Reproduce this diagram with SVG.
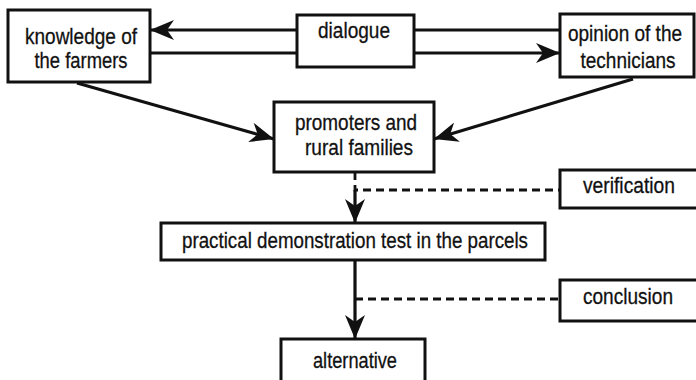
<svg xmlns="http://www.w3.org/2000/svg" width="696" height="380" viewBox="0 0 696 380">
<style>
.box{fill:#fff;stroke:#111;stroke-width:3}
.t{font-family:"Liberation Sans",Arial,sans-serif;font-size:22px;fill:#111;stroke:#111;stroke-width:0.3;text-anchor:middle}
.ln{fill:none;stroke:#111;stroke-width:3.2}
.dash{fill:none;stroke:#111;stroke-width:2.8;stroke-dasharray:8 5}
</style>
<defs>
<marker id="ah" viewBox="0 0 24 20" refX="24" refY="10" markerWidth="24" markerHeight="20" markerUnits="userSpaceOnUse" orient="auto">
<path d="M0,0 L24,10 L0,20 L7,10 Z" fill="#111"/>
</marker>
</defs>
<rect width="696" height="380" fill="#fff"/>
<g id="connectors">
<path class="ln" d="M297,30 L150,30" marker-end="url(#ah)"/>
<path class="ln" d="M150,53 L297,53"/>
<path class="ln" d="M415,30 L560,30"/>
<path class="ln" d="M415,53 L560,53" marker-end="url(#ah)"/>
<path class="ln" d="M77,83 L274,139" marker-end="url(#ah)"/>
<path class="ln" d="M633,79 L434,139" marker-end="url(#ah)"/>
<path class="dash" d="M355,172 L355,190 L560,190"/>
<path class="ln" d="M355,190 L355,223" marker-end="url(#ah)"/>
<path class="ln" d="M355,260 L355,339" marker-end="url(#ah)"/>
<path class="dash" d="M355,299 L560,299"/>
</g>
<g id="knowledge">
<rect class="box" x="8" y="10" width="142" height="72"/>
<text class="t" x="81" y="44" textLength="112" lengthAdjust="spacingAndGlyphs">knowledge of</text>
<text class="t" x="81" y="68" textLength="93" lengthAdjust="spacingAndGlyphs">the farmers</text>
</g>
<g id="dialogue">
<rect class="box" x="297" y="15" width="117" height="52"/>
<text class="t" x="354" y="38" textLength="72" lengthAdjust="spacingAndGlyphs">dialogue</text>
</g>
<g id="opinion">
<rect class="box" x="560" y="14" width="134" height="63"/>
<text class="t" x="625" y="41" textLength="114" lengthAdjust="spacingAndGlyphs">opinion of the</text>
<text class="t" x="628" y="68" textLength="95" lengthAdjust="spacingAndGlyphs">technicians</text>
</g>
<g id="promoters">
<rect class="box" x="274" y="102" width="160" height="70"/>
<text class="t" x="356" y="130" textLength="122" lengthAdjust="spacingAndGlyphs">promoters and</text>
<text class="t" x="359" y="155" textLength="108" lengthAdjust="spacingAndGlyphs">rural families</text>
</g>
<g id="verification">
<rect class="box" x="560" y="170" width="140" height="38"/>
<text class="t" x="629" y="193" textLength="92" lengthAdjust="spacingAndGlyphs">verification</text>
</g>
<g id="practical">
<rect class="box" x="161" y="223" width="384" height="37"/>
<text class="t" x="355" y="248" textLength="346" lengthAdjust="spacingAndGlyphs">practical demonstration test in the parcels</text>
</g>
<g id="conclusion">
<rect class="box" x="560" y="280" width="140" height="41"/>
<text class="t" x="628" y="304" textLength="90" lengthAdjust="spacingAndGlyphs">conclusion</text>
</g>
<g id="alternative">
<rect class="box" x="281" y="339" width="144" height="50"/>
<text class="t" x="355" y="368" textLength="84" lengthAdjust="spacingAndGlyphs">alternative</text>
</g>
</svg>
